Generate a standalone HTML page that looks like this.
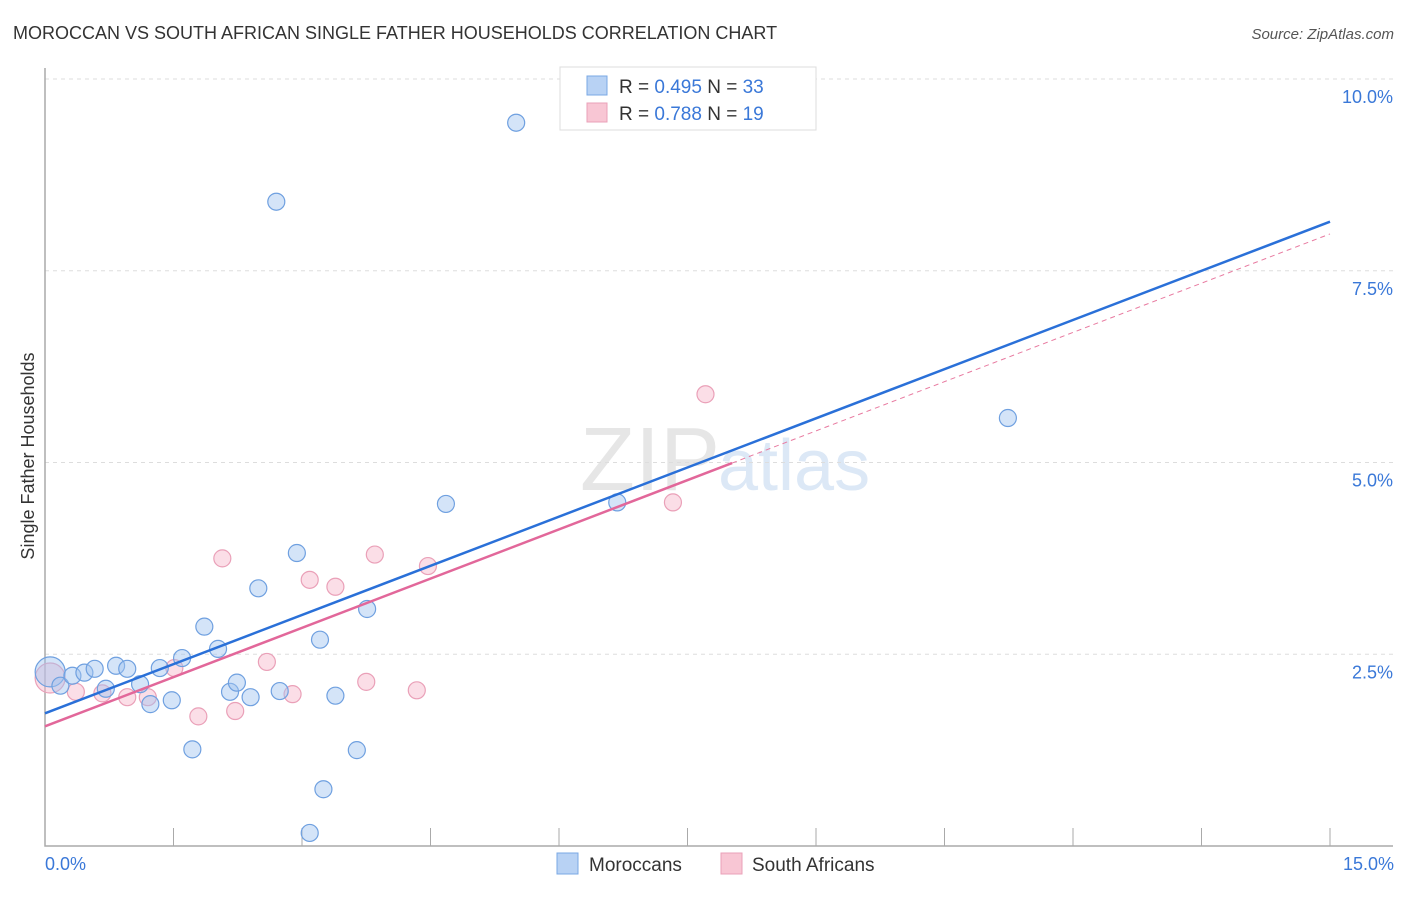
<!DOCTYPE html>
<html><head><meta charset="utf-8"><style>
body{margin:0;background:#fff;font-family:"Liberation Sans",sans-serif}
svg text{font-family:"Liberation Sans",sans-serif}
</style></head><body>
<svg id="c" width="1406" height="892">
<text x="13" y="39" font-size="18" fill="#333">MOROCCAN VS SOUTH AFRICAN SINGLE FATHER HOUSEHOLDS CORRELATION CHART</text>
<text x="1394" y="39" font-size="15" fill="#555" text-anchor="end" font-style="italic">Source: ZipAtlas.com</text>
<text x="720" y="490" font-size="90" fill="#e6e6e6" text-anchor="end" font-family="Liberation Serif">ZIP</text>
<text x="718" y="490" font-size="72" fill="#dce8f6">atlas</text>
<g id="grid"></g><g id="axes"></g><g id="pts"></g><g id="lines"></g>
<text transform="translate(34,456) rotate(-90)" font-size="18" fill="#333" text-anchor="middle">Single Father Households</text>
<text x="45" y="870" font-size="18" fill="#3a78d8">0.0%</text>
<text x="1394" y="870" font-size="18" fill="#3a78d8" text-anchor="end">15.0%</text>
<g>
<rect x="560" y="67" width="256" height="63" fill="#fff" stroke="#ddd"/>
<rect x="587" y="76" width="20" height="19" fill="#b8d2f4" stroke="#7aa8e4"/>
<rect x="587" y="103" width="20" height="19" fill="#f8c6d4" stroke="#eaa0b8"/>
<text x="619" y="93" font-size="19" fill="#333">R = <tspan fill="#3a78d8">0.495</tspan>   N = <tspan fill="#3a78d8">33</tspan></text>
<text x="619" y="120" font-size="19" fill="#333">R = <tspan fill="#3a78d8">0.788</tspan>   N = <tspan fill="#3a78d8">19</tspan></text>
</g>
<g>
<rect x="557" y="853" width="21" height="21" fill="#b8d2f4" stroke="#7aa8e4"/>
<text x="589" y="871" font-size="19" fill="#333">Moroccans</text>
<rect x="721" y="853" width="21" height="21" fill="#f8c6d4" stroke="#eaa0b8"/>
<text x="752" y="871" font-size="19" fill="#333">South Africans</text>
</g>
</svg>
<script>
const yTicks=[2.5,5.0,7.5,10.0];
const blueX=[0.06,0.18,0.32,0.46,0.58,0.71,0.83,0.96,1.11,1.23,1.34,1.48,1.60,1.72,1.86,2.02,2.16,2.24,2.40,2.49,2.70,2.74,2.94,3.09,3.21,3.25,3.39,3.64,3.76,4.68,5.50,6.68,11.24];
const blueY=[2.27,2.09,2.22,2.26,2.31,2.05,2.35,2.31,2.11,1.85,2.32,1.90,2.45,1.26,2.86,2.57,2.01,2.13,1.94,3.36,8.40,2.02,3.82,0.17,2.69,0.74,1.96,1.25,3.09,4.46,9.43,4.48,5.58];
const pinkX=[0.06,0.36,0.67,0.96,1.20,1.51,1.79,2.07,2.22,2.59,2.89,3.09,3.39,3.75,3.85,4.34,4.47,7.33,7.71];
const pinkY=[2.19,2.01,1.99,1.94,1.94,2.32,1.69,3.75,1.76,2.40,1.98,3.47,3.38,2.14,3.80,2.03,3.65,4.48,5.89];
const blueTrend=[1.73,8.14];
const pinkTrend=[1.56,7.98];
const pinkSolidEnd=8.02;
const X=v=>45+v*(1330-45)/15, Y=v=>846-v*76.7;
const NS='http://www.w3.org/2000/svg';
function mk(t,a,p){const e=document.createElementNS(NS,t);for(const k in a)e.setAttribute(k,a[k]);document.getElementById(p).appendChild(e);return e;}
yTicks.forEach(t=>{
 const l=mk('line',{x1:45,x2:1393,y1:Y(t),y2:Y(t),stroke:'#ddd','stroke-dasharray':'4 4'},'grid');
 
 
 const tx=mk('text',{x:1393,y:Y(t)+24,'font-size':18,fill:'#3a78d8','text-anchor':'end'},'grid');
 tx.textContent=t.toFixed(1)+'%';
 
 
});
const ax=mk('path',{d:'M45,68V846H1393',fill:'none',stroke:'#aaa','stroke-width':1.5},'axes');


for(let i=1;i<=10;i++){const tk=mk('line',{x1:X(i*1.5),x2:X(i*1.5),y1:828,y2:846,stroke:'#aaa'},'axes');
 
 }
function dots(xs,ys,fill,stroke,name){xs.forEach((x,i)=>{
 const c=mk('circle',{cx:X(x),cy:Y(ys[i]),r:i===0?15:8.5,fill:fill,stroke:stroke,'stroke-width':1.2},'pts');
 
 });}
dots(pinkX,pinkY,'rgba(246,182,202,0.45)','#eaa0b8','south-african-point');
dots(blueX,blueY,'rgba(160,196,240,0.45)','#6fa0e0','moroccan-point');
const pd=mk('line',{x1:X(pinkSolidEnd),y1:Y(pinkTrend[0]+(pinkTrend[1]-pinkTrend[0])*pinkSolidEnd/15),x2:X(15),y2:Y(pinkTrend[1]),stroke:'#e87aa0','stroke-width':1,'stroke-dasharray':'5 4'},'lines');


const ps=mk('line',{x1:X(0),y1:Y(pinkTrend[0]),x2:X(pinkSolidEnd),y2:Y(pinkTrend[0]+(pinkTrend[1]-pinkTrend[0])*pinkSolidEnd/15),stroke:'#e2679a','stroke-width':2.5},'lines');


const bl=mk('line',{x1:X(0),y1:Y(blueTrend[0]),x2:X(15),y2:Y(blueTrend[1]),stroke:'#2a70d8','stroke-width':2.5},'lines');


</script>
</body></html>
